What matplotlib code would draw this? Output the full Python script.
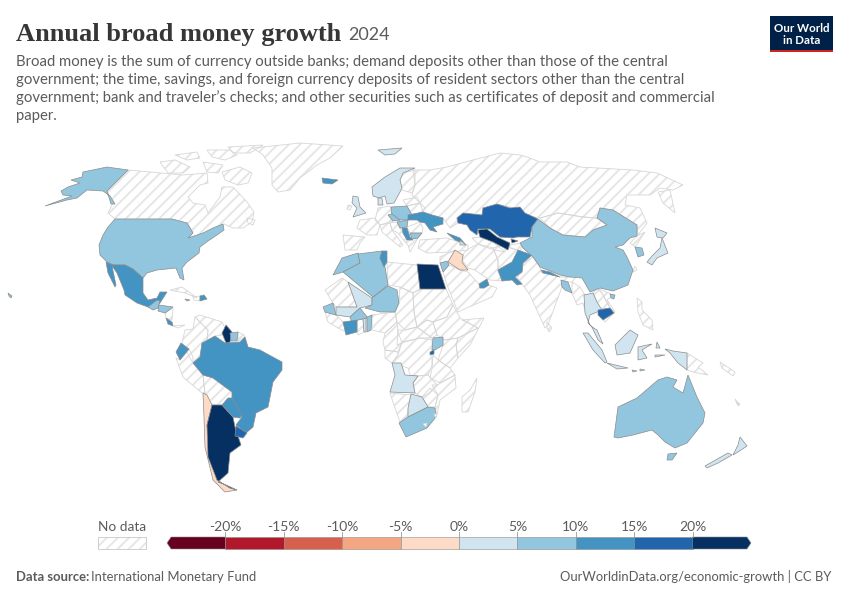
import matplotlib
matplotlib.use("Agg")
import matplotlib.pyplot as plt
from matplotlib.colors import ListedColormap, BoundaryNorm
from matplotlib.patches import Polygon, Rectangle

plt.rcParams["font.family"] = ["Lato", "DejaVu Sans"]
plt.rcParams["hatch.linewidth"] = 1.4

# growth by country, % (read from the bin colours, so only roughly)
growth = {
    "usa": 7.5, "alaska": 7.5, "hawaii": 7.5, "mexico": 12.5, "guatemala": 7.5, "honduras": 7.5,
    "costa_rica": 12.5, "dominican": 12.5, "jamaica": 7.5,
    "brazil": 12.5, "guyana": 22, "suriname": 7.5, "ecuador": 12.5, "chile": -2.5, "argentina": 40,
    "paraguay": 12.5, "uruguay": 17.5,
    "iceland": 12.5, "nordic": 2.5, "denmark": 2.5, "uk": 2.5, "svalbard": 2.5, "poland": 7.5,
    "czechia": 7.5, "hungary": 7.5, "ukraine": 12.5, "serbia": 12.5, "bulgaria": 7.5, "georgia": 12.5,
    "azerbaijan": 2.5, "kazakhstan": 17.5, "uzbekistan": 25, "kyrgyzstan": 25, "pakistan": 12.5,
    "iraq": -2.5, "jordan": 7.5, "oman": 12.5, "china": 7.5, "hainan": 7.5, "nepal": 12.5,
    "bangladesh": 7.5, "thailand": 2.5, "cambodia": 17.5, "south_korea": 7.5, "hokkaido": 2.5,
    "honshu": 2.5, "morocco": 7.5, "algeria": 7.5, "tunisia": 12.5, "egypt": 23, "mali": 2.5,
    "niger": 7.5, "senegal": 7.5, "burkina": 7.5, "ivory_coast": 12.5, "benin": 7.5, "togo": 2.5,
    "uganda": 7.5, "rwanda": 17.5, "angola": 2.5, "botswana": 2.5, "south_africa": 7.5,
    "sumatra": 2.5, "malaysia": 2.5, "java": 2.5, "lombok": 2.5, "flores": 2.5, "halmahera": 2.5,
    "seram": 2.5, "borneo": 2.5, "sulawesi": 2.5, "west_papua": 2.5,
    "australia": 7.5, "tasmania": 7.5, "nz_north": 2.5, "nz_south": 2.5,
}

# outlines on the reference map (map x, map y)
shapes_with_data = {
    "usa": [(115,219),(172,219),(187,223),(193,233),(188,238),(203,233),(213,228),(223,224),(224,230),(217,235),(208,241),(200,247),(199,253),(187,262),(182,268),(184,280),(180,278),(176,268),(157,270),(147,273),(143,278),(133,269),(125,265),(113,265),(106,261),(100,255),(99,245),(103,235),(108,227)],
    "alaska": [(128,170),(107,167),(83,172),(82,177),(71,180),(80,183),(68,187),(61,191),(63,195),(72,196),(45,206),(67,200),(77,198),(87,190),(103,191),(110,196),(115,204),(111,204),(107,191)],
    "hawaii": [(8,293),(12,296),(11,298),(9,296)],
    "mexico": [(106,262),(113,265),(125,265),(133,269),(143,278),(143,293),(148,300),(157,298),(160,292),(167,292),(160,303),(154,307),(148,307),(137,303),(125,295),(124,290),(117,273),(112,266),(116,285),(115,287),(108,273)],
    "guatemala": [(148,307),(157,300),(160,301),(158,308),(153,310)],
    "honduras": [(159,305),(173,307),(165,313),(158,311)],
    "costa_rica": [(166,318),(172,322),(173,326),(168,324)],
    "dominican": [(200,296),(204,295),(207,299),(200,301)],
    "jamaica": [(185,299),(190,300),(187,301)],
    "brazil": [(202,343),(215,336),(225,343),(240,342),(245,337),(248,347),(260,350),(282,362),(282,370),(273,382),(268,407),(256,413),(253,427),(246,433),(236,425),(242,417),(232,398),(232,392),(213,378),(203,375),(193,363),(200,357)],
    "guyana": [(226,325),(232,332),(230,342),(226,343),(222,333)],
    "suriname": [(230,333),(238,332),(237,341),(231,341)],
    "ecuador": [(181,343),(189,349),(180,360),(176,352)],
    "chile": [(203,393),(207,395),(212,405),(207,425),(210,457),(217,480),(230,488),(237,490),(225,492),(213,480),(205,447),(204,417)],
    "argentina": [(212,405),(222,405),(233,417),(235,427),(241,445),(230,453),(228,473),(218,482),(226,485),(237,490),(230,488),(217,480),(208,457),(207,425)],
    "paraguay": [(222,405),(228,398),(232,398),(242,415),(240,418),(233,417)],
    "uruguay": [(236,426),(247,433),(243,438),(235,436)],
    "iceland": [(322,178),(338,180),(332,184),(323,183)],
    "nordic": [(415,168),(400,168),(385,177),(372,187),(373,196),(379,198),(385,196),(387,204),(394,203),(400,192),(402,188),(400,180),(403,173)],
    "denmark": [(378,198),(382,198),(383,205),(378,205)],
    "uk": [(353,196),(358,197),(360,207),(366,213),(353,217),(357,208),(352,203)],
    "svalbard": [(378,150),(402,148),(395,154),(385,155)],
    "poland": [(391,207),(407,206),(412,215),(408,220),(398,220),(392,215)],
    "czechia": [(388,215),(392,214),(400,220),(393,221)],
    "hungary": [(397,222),(408,220),(407,227),(400,228)],
    "ukraine": [(408,215),(423,212),(432,215),(443,218),(443,224),(433,227),(437,232),(430,230),(425,223),(420,222),(417,220),(408,220)],
    "serbia": [(402,228),(407,228),(410,237),(413,240),(407,240),(403,233)],
    "bulgaria": [(410,233),(422,233),(418,238),(412,239)],
    "georgia": [(447,233),(460,238),(465,244),(455,240)],
    "azerbaijan": [(460,240),(466,245),(460,245)],
    "kazakhstan": [(457,218),(463,213),(482,215),(483,208),(497,204),(510,208),(520,207),(525,213),(538,219),(532,227),(530,237),(517,237),(513,238),(500,237),(490,229),(478,229),(477,235),(470,230),(467,225),(458,223)],
    "uzbekistan": [(478,230),(487,229),(497,237),(510,243),(508,250),(493,242),(480,237)],
    "kyrgyzstan": [(511,239),(518,241),(512,243)],
    "pakistan": [(498,270),(512,262),(518,250),(532,255),(523,263),(522,272),(515,277),(522,284),(517,285),(512,280),(502,281)],
    "iraq": [(448,262),(455,250),(463,255),(462,262),(468,270),(460,270)],
    "jordan": [(440,263),(447,261),(449,265),(443,272)],
    "oman": [(479,284),(487,279),(489,285),(484,288),(480,288)],
    "china": [(520,243),(532,237),(532,227),(538,219),(550,228),(563,235),(585,237),(593,230),(607,225),(597,218),(600,208),(613,210),(637,225),(637,236),(630,238),(623,245),(615,247),(623,250),(627,257),(633,270),(628,285),(613,291),(600,288),(590,292),(582,278),(570,277),(560,275),(540,267),(533,257),(523,248)],
    "hainan": [(610,294),(615,295),(614,299),(611,298)],
    "nepal": [(541,270),(550,272),(560,277),(543,273)],
    "bangladesh": [(561,280),(568,282),(572,293),(565,290),(562,287)],
    "thailand": [(584,295),(593,293),(597,302),(602,310),(597,312),(590,315),(588,323),(595,330),(590,325),(585,313)],
    "cambodia": [(598,310),(610,308),(614,313),(603,320),(598,315)],
    "south_korea": [(635,247),(642,248),(644,255),(638,257)],
    "hokkaido": [(655,228),(667,233),(663,238),(657,237)],
    "honshu": [(662,238),(668,253),(657,258),(652,265),(647,262),(652,256),(660,248)],
    "morocco": [(333,275),(342,258),(358,253),(360,263),(343,272)],
    "algeria": [(343,272),(360,263),(358,254),(382,251),(380,258),(385,267),(388,285),(373,297)],
    "tunisia": [(382,251),(387,251),(387,262),(384,267),(380,258)],
    "egypt": [(417,264),(438,265),(446,289),(420,289)],
    "mali": [(348,282),(372,298),(372,305),(360,308),(350,317),(336,315),(336,307),(357,307)],
    "niger": [(388,286),(397,290),(399,303),(395,312),(380,312),(365,308),(372,305),(372,298)],
    "senegal": [(323,307),(333,303),(336,315),(325,312)],
    "burkina": [(350,317),(360,308),(368,318),(358,320),(352,322)],
    "ivory_coast": [(343,322),(357,320),(357,332),(346,335)],
    "benin": [(367,317),(372,315),(371,330),(367,332)],
    "togo": [(363,319),(366,318),(366,332),(364,332)],
    "uganda": [(433,338),(443,337),(443,345),(435,350),(432,350)],
    "rwanda": [(430,352),(434,350),(434,354),(430,355)],
    "angola": [(392,363),(401,363),(405,375),(418,376),(413,383),(415,393),(390,392),(395,375)],
    "botswana": [(411,394),(422,397),(428,407),(408,417),(408,408)],
    "south_africa": [(408,417),(428,407),(435,408),(436,417),(427,428),(406,437),(399,423)],
    "sumatra": [(583,333),(588,333),(602,350),(607,362),(605,363),(593,350)],
    "malaysia": [(592,327),(597,330),(603,344),(598,340)],
    "java": [(607,363),(628,368),(617,369)],
    "lombok": [(632,370),(637,371),(633,372)],
    "flores": [(640,369),(645,370),(640,371)],
    "halmahera": [(657,342),(660,348),(656,348)],
    "seram": [(655,355),(665,355),(655,357)],
    "borneo": [(615,345),(630,330),(638,335),(630,353),(617,355)],
    "sulawesi": [(638,347),(652,344),(642,350),(647,358),(638,360)],
    "west_papua": [(665,349),(673,351),(687,353),(687,370),(678,363),(670,353)],
    "australia": [(614,437),(618,407),(637,398),(658,380),(667,377),(677,380),(673,387),(683,393),(688,375),(697,397),(705,413),(703,423),(687,443),(675,448),(665,442),(658,435),(652,430),(633,435),(618,438)],
    "tasmania": [(668,454),(677,453),(672,460),(667,460)],
    "nz_north": [(740,437),(747,446),(738,452),(733,455),(738,445)],
    "nz_south": [(728,453),(732,455),(718,463),(707,468),(705,466)],
}

shapes_no_data = [
    # north america
    [(128,170),(150,172),(183,175),(207,173),(208,183),(200,185),(188,197),(193,203),(205,205),(208,213),(220,197),(222,187),(233,187),(247,202),(254,212),(252,222),(243,228),(233,228),(224,224),(213,228),(203,234),(189,238),(193,232),(187,223),(172,219),(115,219),(108,213),(113,203),(107,191)],
    [(222,172),(240,167),(252,173),(248,183),(238,185),(225,180)],
    [(160,162),(175,160),(190,167),(183,173),(168,173)],
    [(175,155),(197,152),(200,158),(187,160)],
    [(203,162),(223,165),(218,173),(207,172)],
    [(207,150),(230,150),(237,155),(225,160),(212,157)],
    [(228,147),(263,145),(250,153),(233,153)],
    [(247,218),(255,220),(253,225),(248,223)],
    [(253,148),(300,143),(343,146),(330,158),(317,165),(300,178),(290,190),(278,192),(272,185),(272,168),(263,155)],
    [(170,290),(182,287),(197,298),(185,293)],
    [(165,313),(173,308),(172,320),(166,318)],
    [(173,326),(185,325),(178,328)],
    [(193,297),(200,296),(200,301),(194,300)],
    # south america
    [(193,329),(195,317),(208,330),(207,342),(202,343),(200,357),(193,363),(190,358),(182,343),(185,330)],
    [(195,317),(200,315),(222,322),(226,330),(222,335),(215,336),(207,342),(208,330)],
    [(176,358),(180,360),(189,349),(193,357),(193,363),(203,375),(205,393),(202,393),(183,377)],
    [(203,375),(213,378),(232,392),(232,398),(222,405),(211,404),(205,393)],
    [(238,332),(244,335),(245,337),(238,341)],
    # russia and north asia
    [(413,170),(430,170),(447,167),(473,160),(500,153),(520,155),(527,157),(540,162),(567,162),(580,167),(633,170),(657,173),(683,185),(673,190),(660,188),(650,195),(627,195),(625,205),(640,208),(647,223),(638,235),(637,225),(613,210),(600,208),(597,218),(583,217),(558,213),(540,218),(525,215),(510,207),(497,204),(483,208),(482,215),(463,213),(457,218),(458,223),(450,228),(443,218),(432,215),(423,212),(420,203),(412,195),(415,185)],
    [(658,192),(670,190),(675,213),(663,203)],
    [(540,218),(558,213),(583,217),(597,218),(607,225),(593,230),(585,237),(563,235),(550,228)],
    # europe
    [(403,173),(415,170),(415,185),(412,193),(402,190),(400,180)],
    [(403,200),(417,197),(420,203),(407,206)],
    [(407,206),(420,203),(425,208),(423,212),(412,215)],
    [(378,208),(390,206),(392,215),(388,215),(393,221),(380,225),(375,220)],
    [(360,220),(375,218),(380,225),(377,235),(367,235),(357,228)],
    [(343,235),(365,237),(360,243),(357,250),(345,250)],
    [(380,225),(390,223),(392,230),(403,245),(400,247),(388,237),(382,232)],
    [(390,223),(397,222),(400,228),(403,233),(407,240),(406,243),(398,233),(392,230)],
    [(407,227),(420,222),(423,228),(422,233),(410,233)],
    [(406,243),(412,239),(418,238),(410,252),(408,245)],
    [(348,205),(352,206),(350,210),(347,209)],
    # middle east and south asia
    [(420,240),(447,238),(468,245),(468,250),(452,252),(427,253),(418,248)],
    [(468,249),(478,244),(493,248),(498,260),(498,272),(503,281),(490,280),(482,275),(475,270),(468,268),(462,260),(464,253)],
    [(443,272),(449,265),(460,270),(468,272),(479,284),(480,288),(484,288),(489,285),(497,288),(492,297),(462,310),(458,312),(447,285)],
    [(440,257),(455,250),(448,262),(440,263)],
    [(493,248),(503,245),(517,250),(520,252),(512,262),(498,270),(498,260)],
    [(472,238),(480,237),(493,242),(505,252),(495,250),(485,247),(478,244)],
    [(509,245),(523,243),(520,252),(517,250),(510,248)],
    [(533,257),(540,267),(541,272),(560,277),(570,277),(580,272),(572,282),(568,282),(561,280),(562,287),(548,325),(545,328),(530,295),(522,284),(517,277),(522,272),(523,263)],
    [(547,322),(552,328),(549,332),(547,328)],
    # africa
    [(387,262),(417,265),(420,289),(413,293),(400,287),(388,285)],
    [(325,290),(342,278),(348,282),(357,307),(336,307),(333,303)],
    [(400,287),(413,293),(414,312),(417,327),(405,330),(397,322),(395,312),(399,303)],
    [(413,293),(420,289),(446,289),(453,305),(447,317),(433,322),(427,320),(417,327),(414,312)],
    [(417,327),(427,320),(433,322),(437,335),(432,338)],
    [(433,322),(447,317),(453,305),(460,318),(478,328),(458,338),(445,340),(437,335)],
    [(484,318),(470,345),(458,358),(456,345),(458,338),(478,328),(462,320)],
    [(443,340),(458,338),(456,345),(458,358),(450,368),(438,360),(443,345)],
    [(398,330),(405,330),(417,327),(432,338),(420,338),(405,342),(397,345)],
    [(402,342),(420,338),(432,340),(432,365),(428,375),(418,376),(410,375),(408,368),(392,363),(398,355)],
    [(385,333),(397,322),(398,333),(402,342),(398,352),(385,350),(383,342)],
    [(385,350),(398,352),(398,355),(392,363),(385,358)],
    [(390,393),(411,395),(408,410),(407,417),(400,422),(395,408)],
    [(418,376),(428,375),(437,385),(430,393),(422,397),(415,393),(413,383)],
    [(422,397),(430,388),(438,395),(435,407),(428,407)],
    [(437,385),(455,375),(456,388),(440,400),(437,415),(435,408),(438,395),(432,385)],
    [(433,355),(438,360),(450,368),(455,375),(440,383),(430,378),(432,368)],
    [(477,378),(475,392),(468,412),(462,412),(462,397),(470,390)],
    [(372,315),(395,312),(397,322),(385,333),(372,330)],
    [(357,320),(363,319),(364,332),(358,335)],
    [(325,312),(336,315),(343,322),(346,332),(338,328),(328,322)],
    # east and south east asia
    [(572,282),(580,287),(585,295),(586,310),(588,322),(583,303),(577,305),(572,293)],
    [(597,288),(602,293),(610,308),(598,310),(597,302),(593,293)],
    [(597,288),(613,295),(607,300),(615,312),(605,322),(603,320),(614,313),(610,308),(602,293)],
    [(637,236),(645,232),(635,247),(630,243)],
    [(635,266),(637,270),(633,272)],
    [(637,298),(642,302),(642,310),(652,320),(653,330),(643,325),(638,312)],
    [(687,353),(703,363),(698,367),(708,375),(693,372),(687,370)],
    [(720,362),(735,372),(733,376),(722,368)],
    [(737,402),(740,404),(738,406)],
    [(735,399),(739,404),(737,404)],
]

# small countries that sit inside a country with data
enclaves_no_data = [
    [(423,424),(427,423),(426,427)],
    [(434,414),(437,414),(436,418)],
]

# legend
bin_edges = [-25, -20, -15, -10, -5, 0, 5, 10, 15, 20, 25]
bin_colors = ["#67001f", "#b2182b", "#d6604d", "#f4a582", "#fddbc7", "#d1e5f0", "#92c5de", "#4393c3", "#2166ac", "#053061"]
tick_values = [-20, -15, -10, -5, 0, 5, 10, 15, 20]
tick_labels = ["-20%", "-15%", "-10%", "-5%", "0%", "5%", "10%", "15%", "20%"]

subtitle_lines = [
    "Broad money is the sum of currency outside banks; demand deposits other than those of the central",
    "government; the time, savings, and foreign currency deposits of resident sectors other than the central",
    "government; bank and traveler\u2019s checks; and other securities such as certificates of deposit and commercial",
    "paper.",
]

cmap = ListedColormap(bin_colors)
norm = BoundaryNorm(bin_edges, cmap.N, clip=True)
TEXT_GREY = "#5b5b5b"

fig = plt.figure(figsize=(8.5, 6), dpi=100)
ax = fig.add_axes([0, 0, 1, 1])
ax.set_xlim(0, 850)
ax.set_ylim(600, 0)
ax.axis("off")


def draw_no_data(outline, z):
    ax.add_patch(Polygon(outline, closed=True, facecolor="white", edgecolor="#e6e6e6", hatch="///", lw=0, zorder=z))
    ax.add_patch(Polygon(outline, closed=True, fill=False, edgecolor="#d6d6d6", lw=0.6, zorder=z + 0.5))


# countries without data first
for outline in shapes_no_data:
    draw_no_data(outline, 1)

for name, outline in shapes_with_data.items():
    ax.add_patch(Polygon(outline, closed=True, facecolor=cmap(norm(growth[name])), edgecolor="#8c8c8c", lw=0.5, zorder=3))

for outline in enclaves_no_data:
    draw_no_data(outline, 4)

# header
ax.text(16, 41, "Annual broad money growth", family="Liberation Serif", weight="bold", fontsize=19, color="#363636", va="baseline")
ax.text(348, 40, "2024", fontsize=13, color=TEXT_GREY, va="baseline")
for i, line in enumerate(subtitle_lines):
    ax.text(16, 66 + i * 18, line, fontsize=10.75, color=TEXT_GREY, va="baseline")

# logo
ax.add_patch(Rectangle((770, 16), 63, 36, facecolor="#002147", edgecolor="none"))
ax.add_patch(Rectangle((770, 49.5), 63, 2.5, facecolor="#ce261e", edgecolor="none"))
ax.text(801.5, 32, "Our World", color="white", weight="bold", fontsize=8.3, ha="center", va="baseline")
ax.text(801.5, 44, "in Data", color="white", weight="bold", fontsize=8.3, ha="center", va="baseline")

# no data key
ax.add_patch(Rectangle((98, 537), 48, 12, facecolor="white", edgecolor="#e6e6e6", hatch="///", lw=0))
ax.add_patch(Rectangle((98, 537), 48, 12, fill=False, edgecolor="#c8c8c8", lw=0.6))
ax.text(122, 531, "No data", fontsize=9.8, color=TEXT_GREY, ha="center", va="baseline")

# colour key
leg = fig.add_axes([167 / 850, 1 - 549 / 600, (751 - 167) / 850, 12 / 600])
leg.set_xlim(bin_edges[0], bin_edges[-1])
leg.set_ylim(0, 1)
leg.axis("off")
tip = 0.35
for left, right, color in zip(bin_edges[:-1], bin_edges[1:], bin_colors):
    if left == bin_edges[0]:
        pts = [(left, 0.5), (left + tip, 1), (right, 1), (right, 0), (left + tip, 0)]
    elif right == bin_edges[-1]:
        pts = [(left, 0), (left, 1), (right - tip, 1), (right, 0.5), (right - tip, 0)]
    else:
        pts = [(left, 0), (left, 1), (right, 1), (right, 0)]
    leg.add_patch(Polygon(pts, closed=True, facecolor=color, edgecolor="#8c8c8c", lw=0.4, clip_on=False))
for value, label in zip(tick_values, tick_labels):
    leg.plot([value, value], [1, 1.4], color="#999999", lw=0.6, clip_on=False)
    leg.text(value, 1.3, label, fontsize=10, color=TEXT_GREY, ha="center", va="bottom")

# footer
ax.text(16, 581, "Data source:", weight="bold", fontsize=9.4, color=TEXT_GREY, va="baseline")
ax.text(91, 581, "International Monetary Fund", fontsize=9.4, color=TEXT_GREY, va="baseline")
ax.text(831, 581, "OurWorldinData.org/economic-growth | CC BY", fontsize=9.4, color=TEXT_GREY, ha="right", va="baseline")

fig.savefig("out.png", dpi=100)
